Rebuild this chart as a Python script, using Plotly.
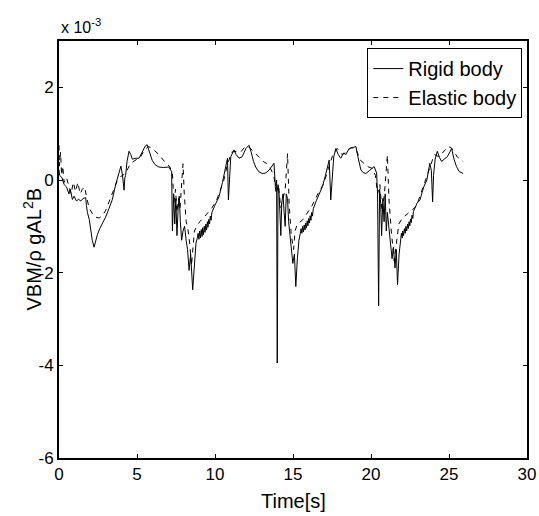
import plotly.graph_objects as go

# Time [s] and VBM/(rho g A L^2 B) in units of 1e-3
rigid_t = [0.0, 0.04, 0.19, 0.33, 0.48, 0.64, 0.72, 0.86, 0.97, 1.11, 1.26, 1.40, 1.55, 1.71, 1.76, 1.82, 1.94, 2.03, 2.13, 2.25, 2.34, 2.46, 2.61, 2.81, 2.99, 3.20, 3.42, 3.63, 3.85, 3.97, 4.07, 4.17, 4.22, 4.27, 4.36, 4.49, 4.60, 4.70, 4.94, 5.13, 5.33, 5.52, 5.65, 5.82, 5.98, 6.16, 6.40, 6.69, 7.04, 7.22,
           7.27, 7.35, 7.42, 7.49, 7.56, 7.64, 7.71, 7.78, 7.86, 7.95, 8.05, 8.15, 8.24, 8.34, 8.44, 8.57, 8.68, 8.78, 8.87,
           8.92, 8.97, 9.02, 9.07, 9.12, 9.17, 9.21, 9.26, 9.31, 9.36, 9.41, 9.46, 9.51, 9.55, 9.60, 9.65, 9.70, 9.75, 9.80,
           9.99, 10.26, 10.48, 10.69, 10.80, 10.86, 10.94, 11.01, 11.22, 11.35, 11.54, 11.74, 11.98, 12.18, 12.32, 12.47, 12.61, 12.80, 13.03, 13.24, 13.46, 13.63, 13.78, 13.87, 13.95, 13.99, 14.04, 14.11, 14.16, 14.22, 14.28, 14.36, 14.43, 14.50, 14.57, 14.65, 14.72, 14.79, 14.89, 14.99, 15.09, 15.18, 15.28, 15.38, 15.47,
           15.52, 15.57, 15.62, 15.67, 15.72, 15.77, 15.81, 15.86, 15.91, 15.96, 16.01, 16.06, 16.10, 16.15, 16.20, 16.25, 16.30,
           16.49, 16.69, 16.89, 17.08, 17.21, 17.32, 17.42, 17.51, 17.61, 17.75, 17.90, 18.06, 18.24, 18.39, 18.60, 18.82, 19.04, 19.16, 19.35, 19.50, 19.67, 19.89, 20.20, 20.36, 20.42, 20.49, 20.55, 20.62, 20.68, 20.76, 20.84, 20.91, 20.98, 21.05, 21.15, 21.25, 21.35, 21.44, 21.54, 21.62, 21.70, 21.80, 21.90,
           21.95, 22.00, 22.04, 22.09, 22.14, 22.19, 22.24, 22.29, 22.34, 22.39, 22.44, 22.49, 22.53, 22.58, 22.63, 22.68, 22.72,
           22.95, 23.14, 23.38, 23.58, 23.77, 23.87, 23.95, 24.01, 24.11, 24.25, 24.40, 24.53, 24.69, 24.89, 25.17, 25.32, 25.48, 25.66, 25.91]
rigid_v = [0.22, 0.10, 0.05, -0.10, -0.15, -0.30, -0.20, -0.42, -0.35, -0.45, -0.42, -0.45, -0.40, -0.38, -0.55, -0.70, -0.85, -1.10, -1.30, -1.45, -1.30, -1.18, -1.05, -0.92, -0.80, -0.62, -0.42, -0.10, 0.20, 0.30, 0.10, -0.22, 0.05, 0.10, 0.40, 0.62, 0.55, 0.45, 0.47, 0.47, 0.60, 0.73, 0.76, 0.60, 0.42, 0.33, 0.28, 0.27, 0.28, 0.18,
           -1.10, -0.30, -0.95, -0.40, -1.20, -0.60, -0.35, -0.90, -1.30, -1.10, -1.00, -1.30, -1.50, -1.95, -1.60, -2.37, -1.90, -1.36, -1.25,
           -1.15, -1.28, -1.10, -1.25, -1.07, -1.22, -1.03, -1.18, -1.00, -1.13, -0.95, -1.08, -0.90, -1.02, -0.85, -0.95, -0.78, -0.87, -0.70,
           -0.55, -0.36, -0.05, 0.29, 0.47, -0.43, 0.20, 0.50, 0.65, 0.55, 0.47, 0.50, 0.68, 0.75, 0.60, 0.40, 0.28, 0.18, 0.14, 0.15, 0.21, 0.28, 0.36, -0.14, 0.00, -3.95, -0.10, -0.30, -0.60, -1.20, -0.50, -0.30, -0.70, -1.00, -0.30, -0.40, -0.90, -1.10, -1.50, -1.80, -1.60, -2.30, -1.70, -1.30, -1.15,
           -1.05, -1.15, -1.00, -1.12, -0.97, -1.08, -0.93, -1.04, -0.88, -0.99, -0.83, -0.93, -0.77, -0.87, -0.70, -0.78, -0.62,
           -0.45, -0.28, -0.14, 0.10, 0.29, 0.43, -0.43, 0.10, 0.50, 0.68, 0.55, 0.47, 0.58, 0.55, 0.68, 0.70, 0.72, 0.50, 0.22, 0.16, 0.14, 0.20, 0.29, 0.15, -0.30, -2.72, -0.20, -0.50, -1.20, -0.40, -0.90, -0.30, -1.10, -0.70, -1.00, -1.30, -1.70, -1.45, -1.90, -1.50, -2.26, -1.60, -1.25,
           -1.15, -1.25, -1.10, -1.20, -1.05, -1.15, -1.00, -1.10, -0.95, -1.05, -0.90, -0.99, -0.84, -0.92, -0.76, -0.83, -0.68,
           -0.50, -0.43, -0.15, 0.00, 0.36, 0.20, -0.47, 0.10, 0.45, 0.62, 0.48, 0.40, 0.45, 0.50, 0.68, 0.45, 0.29, 0.18, 0.14]

elastic_t = [0.0, 0.03, 0.10, 0.17, 0.24, 0.33, 0.48, 0.62, 0.77, 0.92, 1.06, 1.21, 1.35, 1.50, 1.64, 1.79, 1.93, 2.13, 2.32, 2.57, 2.76, 3.00, 3.24, 3.49, 3.73, 3.97, 4.26, 4.59, 4.85, 5.23, 5.48, 5.72, 5.91, 6.16, 6.40, 6.64, 6.85, 7.08, 7.27, 7.37, 7.47, 7.56, 7.66, 7.76, 7.85, 7.95, 8.03, 8.15, 8.24, 8.39, 8.49, 8.58, 8.68, 8.83, 9.02, 9.31, 9.50, 9.80, 10.09, 10.38, 10.57, 10.77, 11.06, 11.35, 11.64, 11.93, 12.22, 12.51, 12.80, 13.09, 13.29, 13.48, 13.77, 13.92, 14.07, 14.21, 14.36, 14.50, 14.65, 14.75, 14.89, 15.04, 15.13, 15.28, 15.62, 15.91, 16.20, 16.59, 16.98, 17.27, 17.56, 17.85, 18.14, 18.43, 18.72, 19.02, 19.31, 19.79, 20.08, 20.28, 20.42, 20.57, 20.71, 20.86, 21.05, 21.15, 21.30, 21.49, 21.64, 21.78, 22.02, 22.41, 22.90, 23.19, 23.48, 23.77, 24.06, 24.35, 24.64, 24.94, 25.13, 25.32, 25.52, 25.71, 25.91]
elastic_v = [0.75, 0.30, 0.60, 0.10, 0.30, -0.05, 0.05, -0.10, -0.30, -0.05, -0.25, -0.05, -0.30, -0.20, -0.15, -0.40, -0.60, -0.72, -0.80, -0.82, -0.78, -0.65, -0.45, -0.20, -0.02, 0.08, 0.14, 0.36, 0.42, 0.50, 0.65, 0.72, 0.70, 0.62, 0.55, 0.45, 0.36, 0.30, 0.15, -0.50, -0.20, -0.70, -0.40, -0.60, -0.20, 0.35, -0.30, -0.90, -1.00, -1.40, -1.85, -1.50, -1.10, -1.00, -0.90, -0.80, -0.72, -0.60, -0.45, -0.20, 0.00, 0.30, 0.60, 0.62, 0.60, 0.72, 0.70, 0.60, 0.50, 0.40, 0.36, 0.30, 0.10, -0.30, -0.10, -0.60, -0.40, -0.20, 0.57, -0.50, -1.20, -1.50, -1.10, -0.95, -0.86, -0.72, -0.57, -0.30, -0.07, 0.25, 0.55, 0.68, 0.55, 0.60, 0.70, 0.68, 0.43, 0.29, 0.25, 0.10, -0.30, -0.10, -0.70, -0.30, 0.54, -0.40, -1.10, -1.75, -1.30, -0.95, -0.82, -0.70, -0.57, -0.30, 0.00, 0.30, 0.55, 0.50, 0.60, 0.72, 0.70, 0.62, 0.50, 0.45, 0.40]

x_ticks = [0, 5, 10, 15, 20, 25, 30]
y_ticks = [-6, -4, -2, 0, 2]

FONT = "Liberation Sans, Arial, sans-serif"

fig = go.Figure()
fig.add_trace(go.Scatter(x=rigid_t, y=rigid_v, mode="lines", name="Rigid body",
                         line=dict(color="black", width=1)))
fig.add_trace(go.Scatter(x=elastic_t, y=elastic_v, mode="lines", name="Elastic body",
                         line=dict(color="black", width=1, dash="5px,5px")))

axis_common = dict(showline=True, linecolor="black", linewidth=2, mirror="ticks",
                   ticks="inside", ticklen=4, tickwidth=1, tickcolor="black",
                   showgrid=False, zeroline=False, automargin=False,
                   tickfont=dict(family=FONT, size=17, color="black"))

fig.update_xaxes(range=[0, 30], tickvals=x_ticks, ticktext=[str(v) for v in x_ticks], **axis_common)
fig.update_yaxes(range=[-6, 3], tickvals=y_ticks, ticktext=[str(v) for v in y_ticks], **axis_common)

# axis titles
fig.add_annotation(text="Time[s]", xref="paper", yref="paper", x=0.5, y=0,
                   xanchor="center", yanchor="middle", yshift=-43, showarrow=False,
                   font=dict(family=FONT, size=20, color="black"))
fig.add_annotation(text="VBM/\u03c1 gAL<sup>2</sup>B", xref="paper", yref="paper", x=0, y=0.5,
                   xanchor="center", yanchor="middle", xshift=-27, textangle=-90, showarrow=False,
                   font=dict(family=FONT, size=20, color="black"))
# exponent label
fig.add_annotation(text="x 10<sup>-3</sup>", xref="paper", yref="paper", x=0, y=1,
                   xanchor="left", yanchor="bottom", yshift=3, showarrow=False,
                   font=dict(family=FONT, size=16, color="black"))

fig.update_layout(
    width=539, height=516,
    margin=dict(l=59, r=12, t=41, b=58),
    paper_bgcolor="white", plot_bgcolor="white",
    font=dict(family=FONT, size=16, color="black"),
    legend=dict(x=0.99, xanchor="right", y=0.983, yanchor="top",
                bgcolor="white", bordercolor="black", borderwidth=1,
                font=dict(family=FONT, size=20, color="black")),
)

# remove the default page margin so the 539x516 figure fills the window exactly
fig.write_html("out.html", config={"displayModeBar": False}, post_script=(
    "document.body.style.margin='0';"
    "document.body.style.overflow='hidden';"
    "document.documentElement.style.overflow='hidden';"))
